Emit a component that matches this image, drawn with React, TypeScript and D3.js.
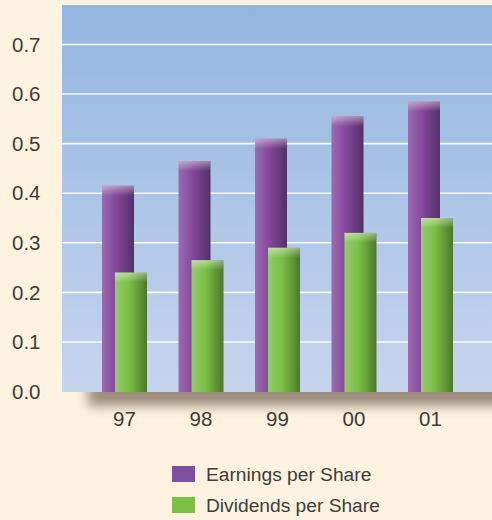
import React from 'react'
import * as d3 from 'd3'

const years = ['97', '98', '99', '00', '01']
const earnings = [0.415, 0.465, 0.51, 0.555, 0.585]
const dividends = [0.24, 0.265, 0.29, 0.32, 0.35]
const yTicks = [0, 0.1, 0.2, 0.3, 0.4, 0.5, 0.6, 0.7]
const legendLabels = ['Earnings per Share', 'Dividends per Share']

const W = 492
const H = 520
const plotLeft = 62
const plotTop = 5
const plotBottom = 392
const font = "'Liberation Sans', Arial, sans-serif"

function App() {
    const y = d3.scaleLinear().domain([0, 0.7]).range([391.5, 44.5])
    const x = d3.scaleBand().domain(years).range([82, 82 + 5 * 76.5]).padding(0)
    const barW = 32
    const divOffset = 13

    return (
        <svg width={W} height={H} style={{ position: 'absolute', left: 0, top: 0 }}>
            <defs>
                <linearGradient id="plotBg" x1="0" y1="0" x2="0" y2="1">
                    <stop offset="0" stopColor="#93b5e0" />
                    <stop offset="1" stopColor="#c6d5ee" />
                </linearGradient>
                <linearGradient id="purple" x1="0" y1="0" x2="1" y2="0">
                    <stop offset="0" stopColor="#9a6cb0" />
                    <stop offset="0.45" stopColor="#84479c" />
                    <stop offset="1" stopColor="#532f68" />
                </linearGradient>
                <linearGradient id="green" x1="0" y1="0" x2="1" y2="0">
                    <stop offset="0" stopColor="#98ca72" />
                    <stop offset="0.45" stopColor="#79bf42" />
                    <stop offset="1" stopColor="#4b782b" />
                </linearGradient>
                <linearGradient id="cap" x1="0" y1="0" x2="0" y2="1">
                    <stop offset="0" stopColor="#fff" stopOpacity="0.42" />
                    <stop offset="1" stopColor="#fff" stopOpacity="0" />
                </linearGradient>
                <filter id="blur" x="-20%" y="-200%" width="140%" height="500%">
                    <feGaussianBlur stdDeviation="6" />
                </filter>
            </defs>
            <rect width={W} height={H} fill="#fef3e0" />

            {/* floor shadow */}
            <rect x={88} y={378} width={460} height={28} fill="#9c8d7c" filter="url(#blur)" />

            <rect x={plotLeft} y={plotTop} width={W - plotLeft} height={plotBottom - plotTop} fill="url(#plotBg)" />

            {yTicks.filter(t => t > 0).map(t => (
                <line key={t} x1={plotLeft} x2={W} y1={y(t)} y2={y(t)} stroke="#fff" strokeWidth={1.6} strokeOpacity={0.9} />
            ))}

            {yTicks.map(t => (
                <text key={t} x={12} y={y(t)} dy="0.35em" fontFamily={font} fontSize={20.5} fill="#3c3c3c">
                    {t.toFixed(1)}
                </text>
            ))}

            {years.map((yr, i) => {
                const x0 = (x(yr) as number) + 20
                return (
                    <g key={yr}>
                        <rect x={x0} y={y(earnings[i])} width={barW} height={plotBottom - y(earnings[i])} fill="url(#purple)" />
                        <rect x={x0} y={y(earnings[i])} width={barW} height={10} fill="url(#cap)" />
                        <rect x={x0 + divOffset} y={y(dividends[i])} width={barW} height={plotBottom - y(dividends[i])} fill="url(#green)" />
                        <rect x={x0 + divOffset} y={y(dividends[i])} width={barW} height={10} fill="url(#cap)" />
                        <text x={x0 + 22.5} y={426} textAnchor="middle" fontFamily={font} fontSize={20.5} fill="#3c3c3c">{yr}</text>
                    </g>
                )
            })}

            {legendLabels.map((l, i) => (
                <g key={l} transform={`translate(172, ${466 + i * 31})`}>
                    <rect width={23} height={16} fill={i === 0 ? '#7c4fa1' : '#7ac143'} />
                    <text x={34} y={8} dy="0.35em" fontFamily={font} fontSize={19.2} fill="#3c3c3c">{l}</text>
                </g>
            ))}
        </svg>
    )
}

export default App
